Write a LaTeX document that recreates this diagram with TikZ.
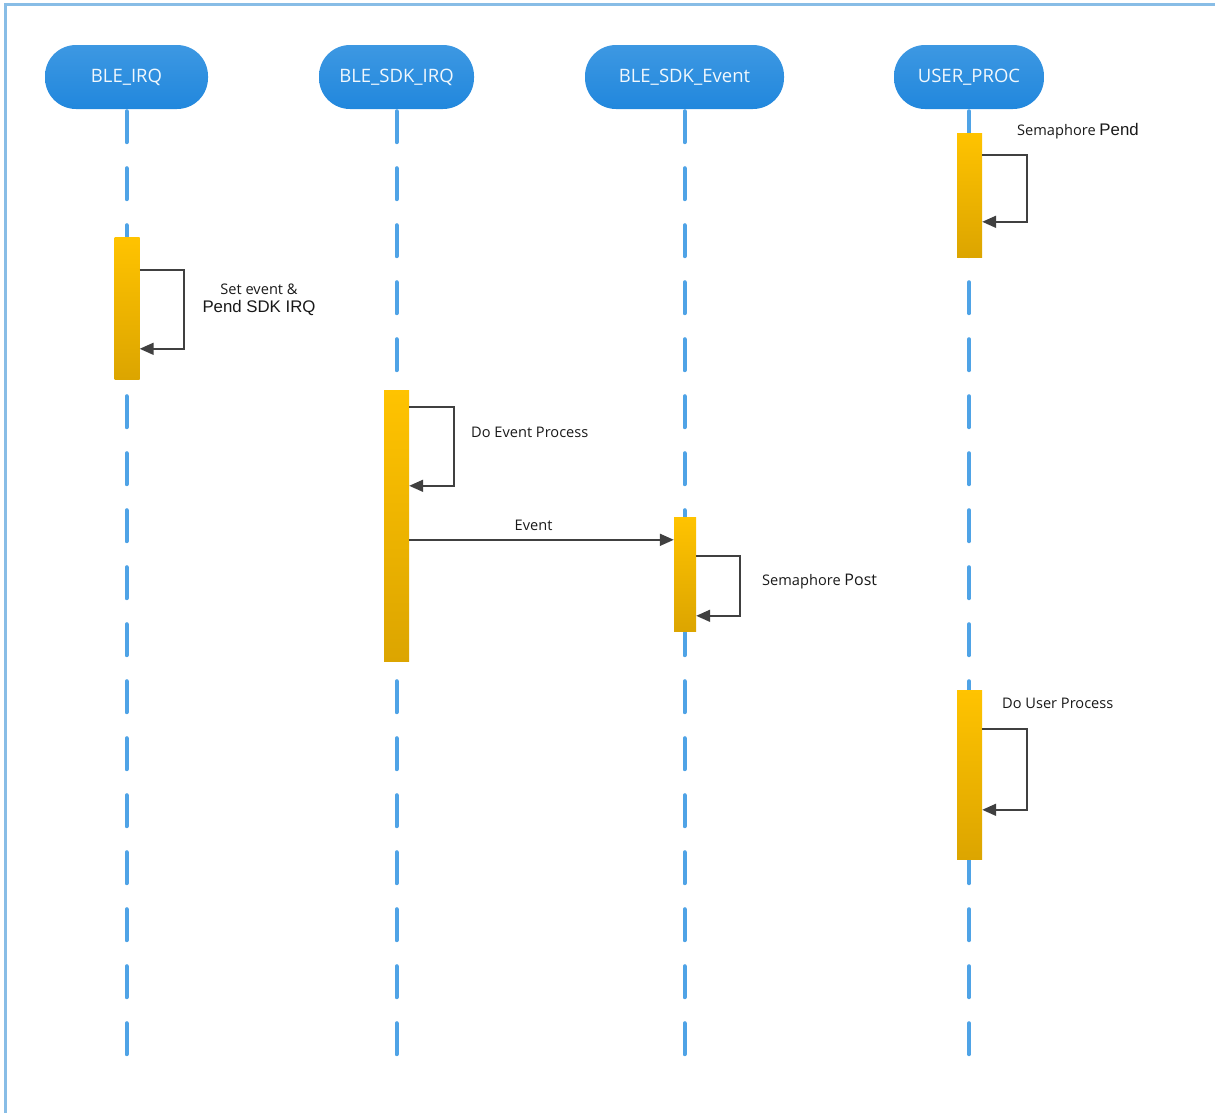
\documentclass[tikz,border=0pt]{standalone}
\usepackage{fontspec}
\setmainfont{Open Sans}
\newfontfamily\arialfont{Liberation Sans}
\usetikzlibrary{arrows.meta,calc,positioning}

\definecolor{headtop}{HTML}{3D98E2}
\definecolor{headbot}{HTML}{2187DD}
\definecolor{lifeblue}{HTML}{4FA3E6}
\definecolor{frameblue}{HTML}{88BDE6}
\definecolor{bartop}{HTML}{FFC300}
\definecolor{barbot}{HTML}{DCA500}
\definecolor{msggray}{HTML}{404040}

\tikzset{
  head/.style={rounded corners=31pt, minimum height=64pt, top color=headtop,
    bottom color=headbot, draw=none, text=white!93!headtop,
    font=\fontsize{18.5}{22}\selectfont, inner sep=0pt},
  lifeline/.style={draw=lifeblue, line width=4pt, line cap=round,
    dash pattern=on 31pt off 26pt},
  actbar/.style={top color=bartop, bottom color=barbot, draw=none,
    minimum width=25pt, inner sep=0pt},
  msg/.style={draw=msggray, line width=1.8pt, -{Triangle[length=14pt,width=12pt]}},
  lbl/.style={font=\fontsize{14.6}{17}\selectfont, text=black!90, inner sep=0pt},
}

\begin{document}
\begin{tikzpicture}[x=1pt, y=-1pt]
    \useasboundingbox (0,0) rectangle (1215,1112);
    \clip (0,0) rectangle (1215,1112);
    \draw[frameblue, line width=2.5pt] (5.5,1200) |- (1300,4.5);

    % heads
    \node[head, minimum width=163pt] (irq) at (126.5,77) {BLE\_IRQ};
    \node[head, minimum width=155pt] (sdk) at (396.5,77) {BLE\_SDK\_IRQ};
    \node[head, minimum width=199pt] (evt) at (684.5,77) {BLE\_SDK\_Event};
    \node[head, minimum width=150pt] (user) at (969,77) {USER\_PROC};

    % lifelines
    \coordinate (irqend) at (126.5,1058);
    \coordinate (sdkend) at (396.5,1060);
    \coordinate (evtend) at (684.5,1067);
    \coordinate (userend) at (969,1060);
    \draw[lifeline] ([yshift=-2pt]irq.south) -- (irqend);
    \draw[lifeline] ([yshift=-2pt]sdk.south) -- (sdkend);
    \draw[lifeline] ([yshift=-2pt]evt.south) -- (evtend);
    \draw[lifeline] ([yshift=-2pt]user.south) -- (userend);

    % activations
    \node[actbar, minimum height=142pt] (irqbar) at (127,308) {};
    \node[actbar, minimum height=271pt] (sdkbar) at (396.5,525.5) {};
    \node[actbar, minimum height=114pt, minimum width=22pt] (evtbar) at (685,574) {};
    \node[actbar, minimum height=124pt] (userbar) at (969.5,195) {};
    \node[actbar, minimum height=169pt] (workbar) at (969.5,774.5) {};

    % messages
    \draw[msg] ($(irqbar.north east)+(0,33)$) -- ++(44,0) |- ($(irqbar.north east)+(0,112)$);
    \node[lbl, align=center] (irqlbl) at (259,300) {Set event \&\\[1.5pt]
      {\arialfont\fontsize{16.8}{19}\selectfont Pend SDK IRQ}};

    \draw[msg] ($(sdkbar.north east)+(0,17)$) -- ++(45,0) |- ($(sdkbar.north east)+(0,96)$);
    \node[lbl, anchor=west] (sdklbl) at (471,432) {Do Event Process};

    \coordinate (evtin) at ($(evtbar.north west)+(0,23)$);
    \draw[msg] (sdkbar.east |- evtin) -- (evtin)
      node[lbl, pos=0.47, above=8pt] (evtlbl) {Event};

    \draw[msg] ($(evtbar.north east)+(0,39)$) -- ++(44,0) |- ($(evtbar.north east)+(0,99)$);
    \node[lbl, anchor=west] (postlbl) at (762,582)
      {Semaphore {\fontsize{16}{19}\selectfont Post}};

    \draw[msg] ($(userbar.north east)+(0,22)$) -- ++(45,0) |- ($(userbar.north east)+(0,89)$);
    \node[lbl, anchor=west] (pendlbl) at (1017,131)
      {Semaphore {\arialfont\fontsize{16.8}{19}\selectfont Pend}};

    \draw[msg] ($(workbar.north east)+(0,39)$) -- ++(45,0) |- ($(workbar.north east)+(0,120)$);
    \node[lbl, anchor=west] (worklbl) at (1002,703) {Do User Process};
\end{tikzpicture}
\end{document}
